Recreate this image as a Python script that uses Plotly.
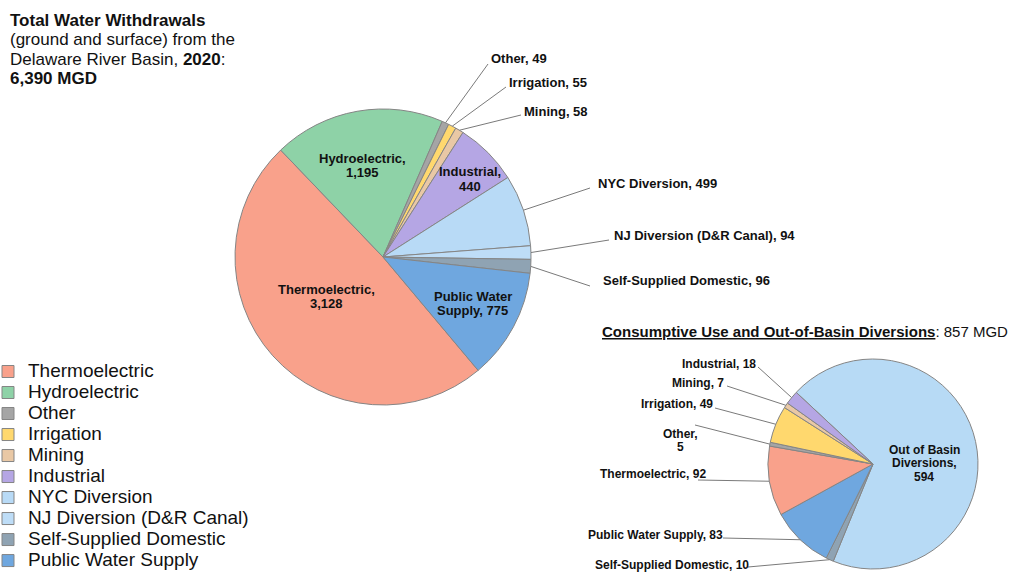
import math
import plotly.graph_objects as go

# ---------------- data ----------------
main_categories = ["Thermoelectric", "Hydroelectric", "Other", "Irrigation", "Mining",
                   "Industrial", "NYC Diversion", "NJ Diversion (D&R Canal)",
                   "Self-Supplied Domestic", "Public Water Supply"]
main_values = [3128, 1195, 49, 55, 58, 440, 499, 94, 96, 775]
main_total = "6,390 MGD"
main_year = "2020"

cons_categories = ["Out of Basin Diversions", "Self-Supplied Domestic", "Public Water Supply",
                   "Thermoelectric", "Other", "Irrigation", "Mining", "Industrial"]
cons_values = [594, 10, 83, 92, 5, 49, 7, 18]
cons_total = "857 MGD"

# ---------------- styles / layout ----------------
W, H = 1009, 582
FONT = "Liberation Sans, Arial, sans-serif"
TXT = "#111111"
EDGE = "#858585"
LEADER = "#7a7a7a"

colors = {
    "Thermoelectric": "#F9A18B",
    "Hydroelectric": "#8ED2A7",
    "Other": "#A5A5A5",
    "Irrigation": "#FFD86E",
    "Mining": "#E9C8A5",
    "Industrial": "#B5A6E4",
    "NYC Diversion": "#B8DAF6",
    "NJ Diversion (D&R Canal)": "#BEDDF7",
    "Self-Supplied Domestic": "#8FA3B3",
    "Public Water Supply": "#6FA7DF",
    "Out of Basin Diversions": "#B7DAF5",
}

MAIN = dict(cx=383, cy=257, r=148, rotation=140)
CONS = dict(cx=873, cy=464, r=105, rotation=-47)

# label placement (pixels): inside labels -> lines centred at x, ys
# outside labels -> text anchor (x, y), leader end point (lx, ly)
main_labels = {
    "Thermoelectric": dict(kind="in", fmt="{name},|{value}", x=326, ys=[289.5, 303]),
    "Hydroelectric": dict(kind="in", fmt="{name},|{value}", x=362.5, ys=[159, 172.5]),
    "Industrial": dict(kind="in", fmt="{name},|{value}", x=469.5, ys=[171.7, 186.7]),
    "Public Water Supply": dict(kind="in", fmt="{w0} {w1}|{w2}, {value}", x=472.5, ys=[296.5, 310]),
    "Other": dict(kind="out", fmt="{name}, {value}", x=490, ys=[59], xanchor="left", lx=488, ly=64),
    "Irrigation": dict(kind="out", fmt="{name}, {value}", x=508, ys=[83], xanchor="left", lx=506, ly=87),
    "Mining": dict(kind="out", fmt="{name}, {value}", x=523, ys=[111], xanchor="left", lx=521, ly=115),
    "NYC Diversion": dict(kind="out", fmt="{name}, {value}", x=597, ys=[183], xanchor="left", lx=590, ly=188),
    "NJ Diversion (D&R Canal)": dict(kind="out", fmt="{name}, {value}", x=613, ys=[235], xanchor="left", lx=609, ly=240),
    "Self-Supplied Domestic": dict(kind="out", fmt="{name}, {value}", x=602, ys=[280], xanchor="left", lx=590, ly=286),
}
cons_labels = {
    "Out of Basin Diversions": dict(kind="in", fmt="{w0} {w1} {w2}|{w3},|{value}", x=924, ys=[450, 463.5, 477]),
    "Self-Supplied Domestic": dict(kind="out", fmt="{name}, {value}", x=750, ys=[565], xanchor="right", lx=748, ly=567),
    "Public Water Supply": dict(kind="out", fmt="{name}, {value}", x=724, ys=[535], xanchor="right", lx=723, ly=538),
    "Thermoelectric": dict(kind="out", fmt="{name}, {value}", x=707, ys=[474], xanchor="right", lx=698, ly=480),
    "Other": dict(kind="out", fmt="{name},|{value}", x=680, ys=[433.5, 447], xanchor="center", lx=695, ly=425),
    "Irrigation": dict(kind="out", fmt="{name}, {value}", x=714, ys=[404], xanchor="right", lx=715, ly=408),
    "Mining": dict(kind="out", fmt="{name}, {value}", x=725, ys=[383], xanchor="right", lx=727, ly=386),
    "Industrial": dict(kind="out", fmt="{name}, {value}", x=757, ys=[363.5], xanchor="right", lx=758, ly=367),
}


def domain(g):
    return dict(x=[(g["cx"] - g["r"]) / W, (g["cx"] + g["r"]) / W],
                y=[1 - (g["cy"] + g["r"]) / H, 1 - (g["cy"] - g["r"]) / H])


fig = go.Figure()

fig.add_trace(go.Pie(
    labels=[f'<span style="font-size:19px">{c}</span>' for c in main_categories],
    values=main_values,
    sort=False, direction="clockwise", rotation=MAIN["rotation"],
    marker=dict(colors=[colors[c] for c in main_categories], line=dict(color=EDGE, width=1)),
    textinfo="none", hoverinfo="label+value", domain=domain(MAIN), showlegend=True,
))
fig.add_trace(go.Pie(
    labels=cons_categories, values=cons_values,
    sort=False, direction="clockwise", rotation=CONS["rotation"],
    marker=dict(colors=[colors[c] for c in cons_categories], line=dict(color=EDGE, width=1)),
    textinfo="none", hoverinfo="label+value", domain=domain(CONS), showlegend=False,
))

annotations = []
shapes = []


def text_ann(text, x, y, xanchor, size, bold=True):
    annotations.append(dict(
        x=x / W, y=1 - y / H, xref="paper", yref="paper", showarrow=False,
        text=f"<b>{text}</b>" if bold else text, xanchor=xanchor, yanchor="middle",
        borderpad=0, font=dict(family=FONT, size=size, color=TXT)))


def pie_labels(cats, vals, geom, specs, size):
    total = sum(vals)
    cum = 0
    for c, v in zip(cats, vals):
        mid = geom["rotation"] + (cum + v / 2) / total * 360
        cum += v
        s = specs[c]
        words = {f"w{i}": w for i, w in enumerate(c.split())}
        txt = s["fmt"].format(name=c, value=f"{v:,}", **words)
        xa = s.get("xanchor", "center")
        for line, y in zip(txt.split("|"), s["ys"]):
            text_ann(line, s["x"], y, xa, size)
        if s["kind"] == "out":
            a = math.radians(mid)
            ex = geom["cx"] + geom["r"] * math.sin(a)
            ey = geom["cy"] - geom["r"] * math.cos(a)
            shapes.append(dict(type="line", xref="paper", yref="paper",
                               x0=ex / W, y0=1 - ey / H, x1=s["lx"] / W, y1=1 - s["ly"] / H,
                               line=dict(color=LEADER, width=1)))


pie_labels(main_categories, main_values, MAIN, main_labels, 13)
pie_labels(cons_categories, cons_values, CONS, cons_labels, 12)

# titles
title_lines = [
    ("<b>Total Water Withdrawals</b>", 21),
    ("(ground and surface) from the", 40),
    (f"Delaware River Basin, <b>{main_year}</b>:", 59.5),
    (f"<b>{main_total}</b>", 79),
]
for t, y in title_lines:
    text_ann(t, 9, y, "left", 17, bold=False)

text_ann(f"<u><b>Consumptive Use and Out-of-Basin Diversions</b></u>: {cons_total}",
         601, 331, "left", 15, bold=False)

fig.update_layout(
    width=W, height=H,
    margin=dict(l=0, r=0, t=0, b=0, autoexpand=False),
    paper_bgcolor="white", plot_bgcolor="white",
    font=dict(family=FONT, color=TXT),
    legend=dict(x=-12 / W, y=1 - 356 / H, xanchor="left", yanchor="top",
                font=dict(family=FONT, size=13.85, color=TXT),
                bgcolor="rgba(0,0,0,0)", traceorder="normal"),
    annotations=annotations, shapes=shapes,
)

fig.write_html("out.html", config={"displayModeBar": False},
               post_script="document.body.style.margin='0px';")
